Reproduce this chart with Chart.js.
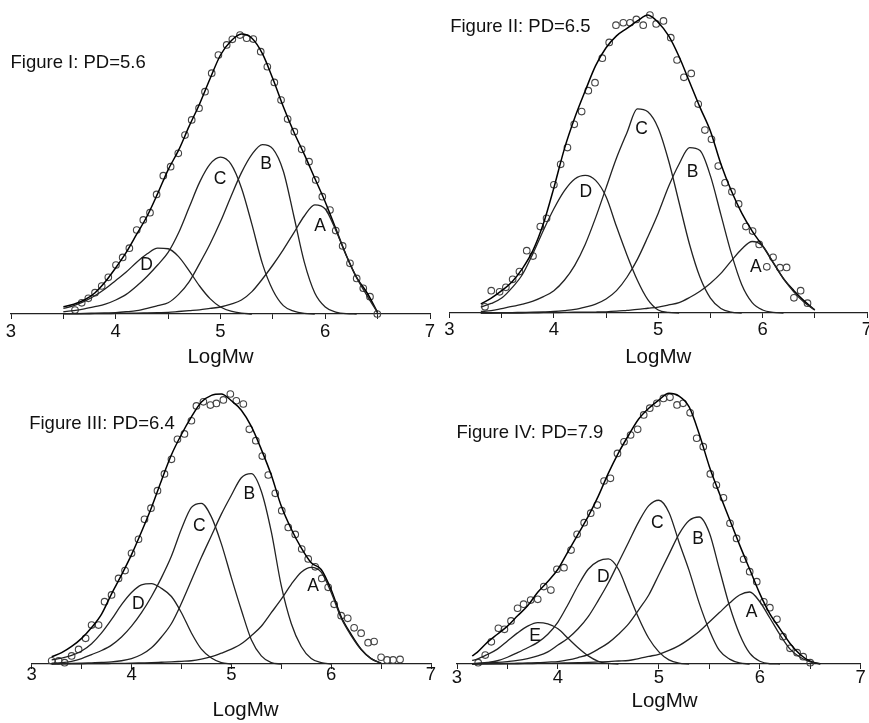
<!DOCTYPE html>
<html><head><meta charset="utf-8">
<script src="https://cdn.jsdelivr.net/npm/chart.js@4.4.1/dist/chart.umd.min.js"></script>
<style>
html,body{margin:0;padding:0;background:#fff;}
body{width:869px;height:723px;overflow:hidden;position:relative;font-family:"Liberation Sans",Arial,sans-serif;}
canvas{position:absolute;}
.ftitle{position:absolute;font-size:18.5px;line-height:1;color:#111;white-space:nowrap;}
</style></head><body>
<canvas id="c1" width="440" height="370" style="left:0;top:0"></canvas>
<canvas id="c2" width="440" height="370" style="left:440px;top:0"></canvas>
<canvas id="c3" width="440" height="353" style="left:0;top:370px"></canvas>
<canvas id="c4" width="440" height="353" style="left:440px;top:370px"></canvas>
<div class="ftitle" style="left:10.5px;top:52.6px">Figure I: PD=5.6</div>
<div class="ftitle" style="left:450.2px;top:17.3px">Figure II: PD=6.5</div>
<div class="ftitle" style="left:29.2px;top:414.3px">Figure III: PD=6.4</div>
<div class="ftitle" style="left:456.5px;top:422.6px">Figure IV: PD=7.9</div>
<script>
// ---------- Figure I ----------
const gridI = [3.5,3.6,3.7,3.8,3.9,4.0,4.1,4.2,4.3,4.4,4.5,4.6,4.7,4.8,4.9,5.0,5.1,5.2,5.3,5.4,5.5,5.6,5.7,5.8,5.9,6.0,6.1,6.2,6.3,6.4,6.5];
const sumI = [2.6,3.5,5,7.5,11.5,16.5,22,28.5,35,43,51.5,58.5,67,75,84,92.5,97.5,100,98.5,93,84,74,65,57,48.5,40,30.5,21,13,7.5,0.5];
const compDI = [2,3,4.5,6.5,9,12,15,18.5,21.5,23.5,23.3,20.5,15.5,10,5.5,2.5,1,0.3,0];
const compCI = [0.8,1.2,1.8,2.6,3.5,5,7,10,13.5,17.5,22,29,38,47,53.5,56,53.5,45,32,18,8.5,3,1,0.2,0];
const compBI = [0.1,0.15,0.2,0.3,0.4,0.5,0.8,1.2,2,3,4,7,11.5,18,25,33,42,50.5,57,60.5,59,51,35,18.5,7.5,2.5,0.7,0.1,0];
const compAI = [0.05,0.06,0.08,0.1,0.12,0.2,0.25,0.3,0.4,0.5,0.6,0.9,1.2,1.5,2,2.5,3.5,5,8,12.5,17.5,23,29,35,39,37.5,30,21,13,6.5,0.5];
const ptsXI = [3.611,3.675,3.738,3.802,3.866,3.929,4.002,4.066,4.13,4.20,4.263,4.327,4.39,4.454,4.524,4.597,4.661,4.725,4.795,4.852,4.916,4.98,5.059,5.113,5.186,5.25,5.313,5.384,5.447,5.514,5.578,5.641,5.705,5.775,5.845,5.909,5.972,6.045,6.10,6.166,6.236,6.30,6.363,6.427,6.497];
const ptsYI = [1.4,4.0,5.6,7.6,10,13.1,17.5,20.2,23.5,30,33.6,36.2,42.7,49.4,52.6,57.4,63.9,69.3,73.5,79.4,86,92.5,96.1,98.1,99.6,98.5,98.2,93.7,88.3,82.7,76.4,69.6,65.1,58.8,54.4,47.9,41.9,37.1,29.8,24.3,18.1,12.7,9.2,6.2,0];
const labTextI = ['D','C','B','A'];
const labXI = [4.295,4.995,5.434,5.95];
const labYI = [17.5,48.1,53.6,31.4];

// ---------- Figure II ----------
const gridII = [3.3,3.4,3.5,3.6,3.7,3.8,3.9,4.0,4.1,4.2,4.3,4.4,4.5,4.6,4.7,4.8,4.9,5.0,5.1,5.2,5.3,5.4,5.5,5.6,5.7,5.8,5.9,6.0,6.1,6.2,6.3,6.4,6.5];
const sumII = [3,5,7.5,10.5,15,21,30,42,55,65.5,74.5,83,89,93,95.5,98,100,97.5,93,86,77.5,69,61,50,41,33.5,27.5,22.5,17,11.5,7.5,4,1];
const compDII = [2,3.2,5,8.5,13,20,27.8,35,41,45,46.2,44.5,39,29,19.5,11,4.5,1,0.2,0];
const compCII = [0.5,0.8,1.5,2.2,3,4,5.5,7.5,11,16,23,32,42,52,60.5,68.5,67.5,62,51,37,23,12,5,1.5,0.3,0];
const compBII = [0,0,0.1,0.15,0.2,0.25,0.35,0.5,0.8,1.2,2,3,4.7,7.5,12,18,25.5,33.5,42.5,50,55.5,54.5,46,33,20,9.5,3.5,1,0.2,0];
const compAII = [0,0,0,0,0,0.05,0.1,0.15,0.2,0.25,0.28,0.32,0.4,0.6,0.9,1.2,1.6,2,2.7,3.5,5.2,7.3,10,13.3,17.5,21.5,24,22.5,17,11.5,7,3.5,1];
const ptsXII = [3.34,3.40,3.48,3.54,3.605,3.67,3.74,3.80,3.87,3.93,4.00,4.065,4.13,4.195,4.266,4.33,4.394,4.464,4.53,4.595,4.665,4.73,4.79,4.856,4.92,4.98,5.05,5.12,5.18,5.246,5.316,5.383,5.447,5.51,5.575,5.64,5.706,5.77,5.84,5.904,5.967,6.04,6.10,6.166,6.23,6.30,6.364,6.43];
const ptsYII = [2.1,7.5,7.1,8.6,11.3,13.9,20.9,19.1,29,31.8,43,49.9,55.5,63.3,67.6,74.6,77.3,85.5,90.8,96.6,97.4,97.4,98.5,96.6,100,97,98,92.4,84.9,79.1,80.4,70.1,61.4,58.3,49.3,43.7,40.7,36.6,29,27.5,23,15.5,18.7,15.2,15.3,5.1,7.5,3.3];
const labTextII = ['D','C','B','A'];
const labXII = [4.307,4.84,5.33,5.936];
const labYII = [40.4,61.6,47.1,15.3];

// ---------- Figure III ----------
const gridIII = [3.2,3.3,3.4,3.5,3.6,3.7,3.8,3.9,4.0,4.1,4.2,4.3,4.4,4.5,4.6,4.7,4.8,4.9,5.0,5.1,5.2,5.3,5.4,5.5,5.6,5.7,5.8,5.9,6.0,6.1,6.2,6.3,6.4,6.5];
const sumIII = [2.7,4.2,6.5,9.5,13.5,18.5,26,33,40.5,49,58,68,77.5,85,91.5,97,99.5,100,97.5,94,88,79.5,70,58.5,50,43,37.5,35,27.5,17.5,11,5.5,2,0.3];
const compDIII = [1.5,2.2,3.2,4.8,7.5,11.5,16.5,22,26.5,29.3,29.8,28,25,19,11.5,5.5,2.2,0.5,0];
const compCIII = [0.3,0.5,1,2,3.5,5,7,10,14,19,25,32,40,50,58,59.5,54.5,44.5,32,20,9,3,0.5,0];
const compBIII = [0.1,0.15,0.2,0.3,0.45,0.6,0.8,1.2,2,3.5,6,10,15,22.5,31,39.5,47.5,55.5,62.5,69,70.5,64,49,29,15,6.5,2,0.5,0];
const compAIII = [0,0.02,0.05,0.1,0.12,0.15,0.2,0.25,0.3,0.4,0.5,0.65,0.8,1,1.2,1.8,2.7,4,5.5,7.5,10.5,14,19,24,29.5,34,35.8,34,26.5,17,10.5,5.3,2,0.3];
const ptsXIII = [3.20,3.27,3.33,3.40,3.47,3.54,3.60,3.67,3.73,3.80,3.87,3.935,4.00,4.07,4.13,4.195,4.26,4.33,4.40,4.46,4.53,4.60,4.65,4.72,4.79,4.85,4.92,4.99,5.05,5.12,5.18,5.245,5.31,5.37,5.44,5.505,5.57,5.64,5.705,5.77,5.84,5.906,5.97,6.03,6.10,6.166,6.23,6.30,6.37,6.43,6.50,6.56,6.62,6.69];
const ptsYIII = [1.2,1.2,0.5,3,5.4,9.5,14.4,14.4,23.1,25.6,31.7,34.6,41,46.2,53.6,57.7,64.2,70.4,75.8,83.2,85.2,90.1,95.6,97.1,95.9,96.5,97.8,100,97.5,96.3,86.9,82.7,77,70,63.2,56.8,50.6,48,42.6,38.9,36,31.7,28.4,22.1,17.9,16.9,13.4,11.4,7.9,8.3,2.5,1.5,1.5,1.7];
const labTextIII = ['D','C','B','A'];
const labXIII = [4.068,4.68,5.18,5.82];
const labYIII = [22.2,51.1,62.9,28.9];

// ---------- Figure IV ----------
const gridIV = [3.15,3.2,3.3,3.4,3.5,3.6,3.7,3.8,3.9,4.0,4.1,4.2,4.3,4.4,4.5,4.6,4.7,4.8,4.9,5.0,5.1,5.2,5.3,5.4,5.5,5.6,5.7,5.8,5.9,6.0,6.1,6.2,6.3,6.4,6.5,6.6];
const sumIV = [3,4.3,8,11,14,17.8,21.5,26.5,30.5,35,41.5,48,54.5,62,70.5,78,84.5,90.5,94.5,97.5,100,99,95,85,73,63,53.5,44,35,26,18.5,13,7.6,3.5,1,0];
const compEIV = [1.3,1.8,3.5,5.5,8.5,11.5,14,15.3,14.8,13,9.5,6,3,1,0.2,0];
const compDIV = [0.1,0.2,0.6,1.2,2.5,4.2,6,8,11,15.5,22,29,35,38,38.8,35,26,17,9.5,4.5,1.5,0.3,0];
const compCIV = [0.1,0.2,0.4,0.6,0.9,1.3,2,3,4.5,7,9.5,13,17.5,23.5,30,37.5,45,52.5,58.5,60.5,56,45,34.5,22.5,12.5,5,1.8,0.4,0];
const compBIV = [0,0.05,0.1,0.15,0.2,0.3,0.4,0.5,0.7,0.9,1.5,2.4,3.5,5.5,7.8,11,14.8,20,25.5,33,40.5,48,53,54.3,48.5,35,21.5,11,4,1,0.1,0];
const compAIV = [0,0,0.02,0.05,0.08,0.1,0.15,0.2,0.25,0.3,0.4,0.5,0.6,0.75,0.9,1.1,1.3,2,2.8,3.6,5,6.8,9.2,12,15.5,19,22.5,25.5,26.6,23,17,10.8,5.5,2.5,0.8,0.1];
const ptsXIV = [3.21,3.28,3.34,3.41,3.47,3.535,3.60,3.66,3.73,3.80,3.86,3.93,3.99,4.06,4.13,4.19,4.26,4.325,4.39,4.457,4.52,4.59,4.655,4.72,4.79,4.85,4.91,4.98,5.045,5.11,5.18,5.24,5.31,5.375,5.44,5.51,5.57,5.64,5.705,5.77,5.84,5.90,5.97,6.04,6.10,6.17,6.23,6.30,6.37,6.43,6.50];
const ptsYIV = [0.5,3.3,8.2,13.2,12.8,15.9,20.6,22.1,23.6,23.9,28.6,27.3,35,35.6,42.1,47.9,52.2,55.7,58.7,67.6,68.6,77.8,82.1,84.6,86.7,92,94.5,96.3,98.1,98.5,95.7,96.3,92.8,83.4,80.3,70.2,66.1,61.4,52,46.4,38.7,34.1,30.4,23,20.8,16.5,10.1,5.8,4.2,2.7,0.5];
const labTextIV = ['E','D','C','B','A'];
const labXIV = [3.773,4.45,4.985,5.39,5.92];
const labYIV = [10.1,32,52,46.1,19.1];

const axisTitle = 'LogMw';
const FONT = '"Liberation Sans", Arial, sans-serif';

const letterPlugin = {
  id: 'letters',
  afterDatasetsDraw(chart, args, opts) {
    const ctx = chart.ctx, xs = chart.scales.x, ys = chart.scales.y;
    ctx.save();
    ctx.font = '17.5px ' + FONT;
    ctx.fillStyle = '#111';
    ctx.textAlign = 'center';
    ctx.textBaseline = 'middle';
    opts.text.forEach((t, i) => ctx.fillText(t, xs.getPixelForValue(opts.xs[i]), ys.getPixelForValue(opts.ys[i])));
    ctx.restore();
  }
};

function toPts(grid, vals) {
  const out = [];
  vals.forEach((v, i) => { if (v !== null && v !== undefined) out.push({x: grid[i], y: v}); });
  return out;
}

function makeChart(id, grid, sum, comps, px, py, labText, labX, labY, lay) {
  const datasets = [];
  comps.forEach(c => datasets.push({
    data: toPts(grid, c), borderColor: '#222', borderWidth: 1.3, pointRadius: 0,
    cubicInterpolationMode: 'monotone', clip: false, fill: false
  }));
  datasets.push({
    data: toPts(grid, sum), borderColor: '#000', borderWidth: 1.5, pointRadius: 0,
    cubicInterpolationMode: 'monotone', clip: false, fill: false
  });
  datasets.push({
    data: px.map((x, i) => ({x: x, y: py[i]})), showLine: false,
    pointRadius: 3.3, pointBorderWidth: 1.1, pointBorderColor: '#444',
    pointBackgroundColor: 'rgba(0,0,0,0)', clip: false
  });
  return new Chart(document.getElementById(id), {
    type: 'line',
    data: { datasets },
    options: {
      responsive: false, animation: false, devicePixelRatio: 1,
      layout: { padding: lay.pad },
      plugins: { legend: {display: false}, tooltip: {enabled: false},
                 letters: { text: labText, xs: labX, ys: labY } },
      scales: {
        x: {
          type: 'linear', min: 3, max: 7,
          afterFit: s => { s.height = lay.axisH; },
          ticks: { stepSize: 0.5, autoSkip: false, maxRotation: 0, padding: lay.tickPad,
                   color: '#111', font: {family: FONT, size: 18.5},
                   callback: v => Number.isInteger(v) ? String(v) : '' },
          grid: { drawOnChartArea: false, drawTicks: true, tickLength: 5, color: '#222', lineWidth: 1 },
          border: { display: true, color: '#222', width: 1.2 },
          title: { display: true, text: lay.title, color: '#111', font: {family: FONT, size: 20.5},
                   padding: {top: 0, bottom: lay.titlePad} }
        },
        y: { display: false, min: 0, max: 100 }
      }
    },
    plugins: [letterPlugin]
  });
}

makeChart('c1', gridI, sumI, [compDI, compCI, compBI, compAI], ptsXI, ptsYI, labTextI, labXI, labYI,
  {pad: {left: 11, right: 10, top: 34, bottom: 0}, axisH: 56, tickPad: 1.6, titlePad: 0.7, title: axisTitle});
makeChart('c2', gridII, sumII, [compDII, compCII, compBII, compAII], ptsXII, ptsYII, labTextII, labXII, labYII,
  {pad: {left: 9.5, right: 13, top: 15, bottom: 0}, axisH: 57, tickPad: 0.9, titlePad: 0.2, title: axisTitle});
makeChart('c3', gridIII, sumIII, [compDIII, compCIII, compBIII, compAIII], ptsXIII, ptsYIII, labTextIII, labXIII, labYIII,
  {pad: {left: 31.7, right: 9, top: 24, bottom: 0}, axisH: 59, tickPad: -5.1, titlePad: 0, title: '\u00a0\u00a0\u00a0\u00a0\u00a0' + axisTitle});
makeChart('c4', gridIV, sumIV, [compEIV, compDIV, compCIV, compBIV, compAIV], ptsXIV, ptsYIV, labTextIV, labXIV, labYIV,
  {pad: {left: 17, right: 19.3, top: 23.3, bottom: 0}, axisH: 59, tickPad: -1.8, titlePad: 9, title: '\u00a0\u00a0' + axisTitle});
</script>
</body></html>
